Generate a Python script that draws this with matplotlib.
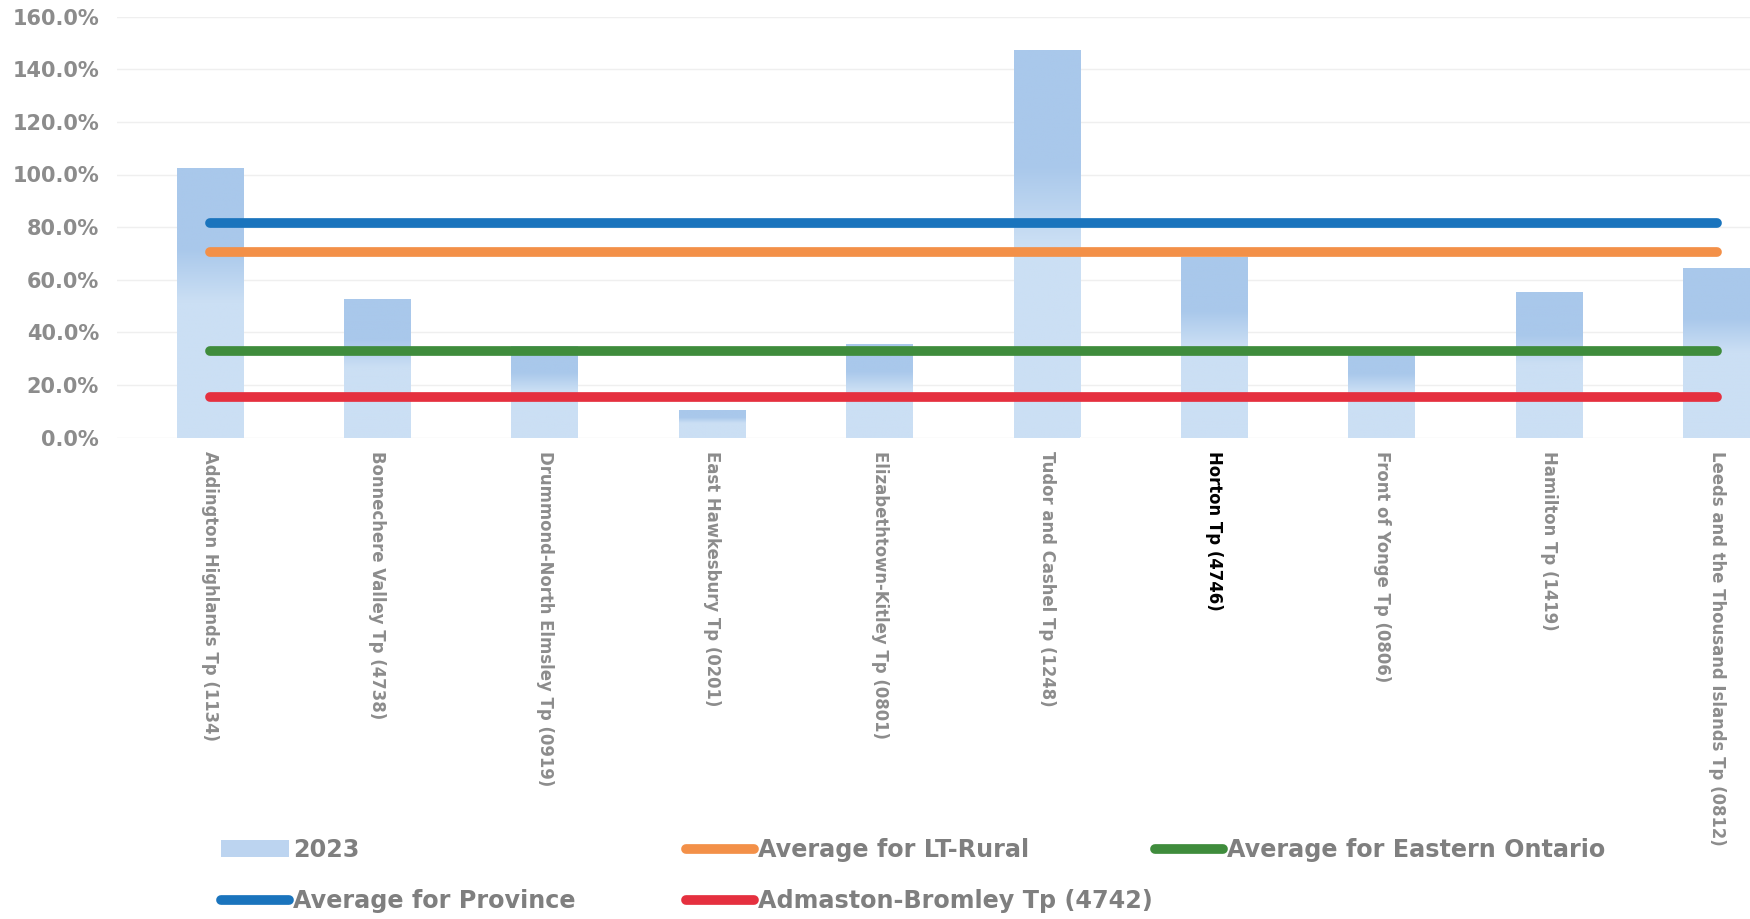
import matplotlib
matplotlib.use("Agg")
import matplotlib.pyplot as plt
import numpy as np
from matplotlib.lines import Line2D
from matplotlib.patches import Patch

# data
towns = ["Addington Highlands Tp (1134)", "Bonnechere Valley Tp (4738)",
         "Drummond-North Elmsley Tp (0919)", "East Hawkesbury Tp (0201)",
         "Elizabethtown-Kitley Tp (0801)", "Tudor and Cashel Tp (1248)",
         "Horton Tp (4746)", "Front of Yonge Tp (0806)", "Hamilton Tp (1419)",
         "Leeds and the Thousand Islands Tp (0812)"]
values_2023 = [102.3, 52.6, 34.8, 10.6, 35.7, 147.3, 68.8, 34.4, 55.2, 64.5]
avg_province = 81.6
avg_lt_rural = 70.5
avg_eastern_ontario = 32.8
admaston_bromley = 15.3
yticks = [0, 20, 40, 60, 80, 100, 120, 140, 160]

bar_dark = np.array([0xa9, 0xc8, 0xeb]) / 255
bar_light = np.array([0xcb, 0xdf, 0xf4]) / 255
c_province = "#1a74bd"
c_rural = "#f39048"
c_eastern = "#3f8c3c"
c_admaston = "#e5303f"
label_gray = "#8c8c8c"

fig = plt.figure(figsize=(17.5, 9.19), dpi=100)
ax = fig.add_axes([117 / 1750, 1 - 437.5 / 919, 1 - 117 / 1750, (437.5 - 16.7) / 919])

x = np.arange(len(towns))
bars = ax.bar(x, values_2023, width=0.4, color=bar_light, zorder=2)

# excel-ish gradient: darker at the top of each bar, fading lighter below
f = np.linspace(0, 1, 200)
mix = np.clip((f - 0.3) / 0.2, 0, 1)
grad = (bar_dark[None, :] * (1 - mix[:, None]) + bar_light[None, :] * mix[:, None])[:, None, :]
for b in bars:
    im = ax.imshow(grad, extent=[b.get_x(), b.get_x() + b.get_width(), 0, b.get_height()],
                   origin="upper", aspect="auto", zorder=2.5)
    im.set_clip_path(b)

lines = [(avg_province, c_province), (avg_lt_rural, c_rural),
         (avg_eastern_ontario, c_eastern), (admaston_bromley, c_admaston)]
for val, col in lines:
    ax.plot(x, [val] * len(x), color=col, lw=7, solid_capstyle="round", zorder=3)

ax.set_xlim(-0.556, 9.2)
ax.set_ylim(0, 160)
ax.set_yticks(yticks)
ax.set_yticklabels([f"{v:.1f}%" for v in yticks])
ax.yaxis.grid(True, color="#efefef", lw=1)
ax.set_axisbelow(True)
for s in ax.spines.values():
    s.set_visible(False)
ax.tick_params(axis="y", length=0, pad=13, labelsize=15, labelcolor=label_gray)
for t in ax.get_yticklabels():
    t.set_fontweight("bold")

ax.set_xticks(x)
ax.set_xticklabels(towns, rotation=-90)
ax.tick_params(axis="x", length=0, pad=10, labelsize=11.9, labelcolor=label_gray)
for t in ax.get_xticklabels():
    t.set_fontweight("bold")
    if t.get_text().startswith("Horton"):
        t.set_color("black")


def add_key(handle, label, x0, y0):
    fig.legend(handles=[handle], labels=[label], loc="center left",
               bbox_to_anchor=(x0, y0), frameon=False, borderpad=0,
               borderaxespad=0, handlelength=2.85, handletextpad=0.17,
               prop={"family": "DejaVu Sans", "weight": "bold", "size": 17.2},
               labelcolor="#7f7f7f")


add_key(Patch(facecolor="#bcd4f0"), "2023", 221 / 1750, 1 - 850 / 919)
add_key(Line2D([], [], color=c_rural, lw=7, solid_capstyle="round"),
        "Average for LT-Rural", 686 / 1750, 1 - 850 / 919)
add_key(Line2D([], [], color=c_eastern, lw=7, solid_capstyle="round"),
        "Average for Eastern Ontario", 1155 / 1750, 1 - 850 / 919)
add_key(Line2D([], [], color=c_province, lw=7, solid_capstyle="round"),
        "Average for Province", 221 / 1750, 1 - 901 / 919)
add_key(Line2D([], [], color=c_admaston, lw=7, solid_capstyle="round"),
        "Admaston-Bromley Tp (4742)", 686 / 1750, 1 - 901 / 919)

fig.savefig("out.png", dpi=100)
